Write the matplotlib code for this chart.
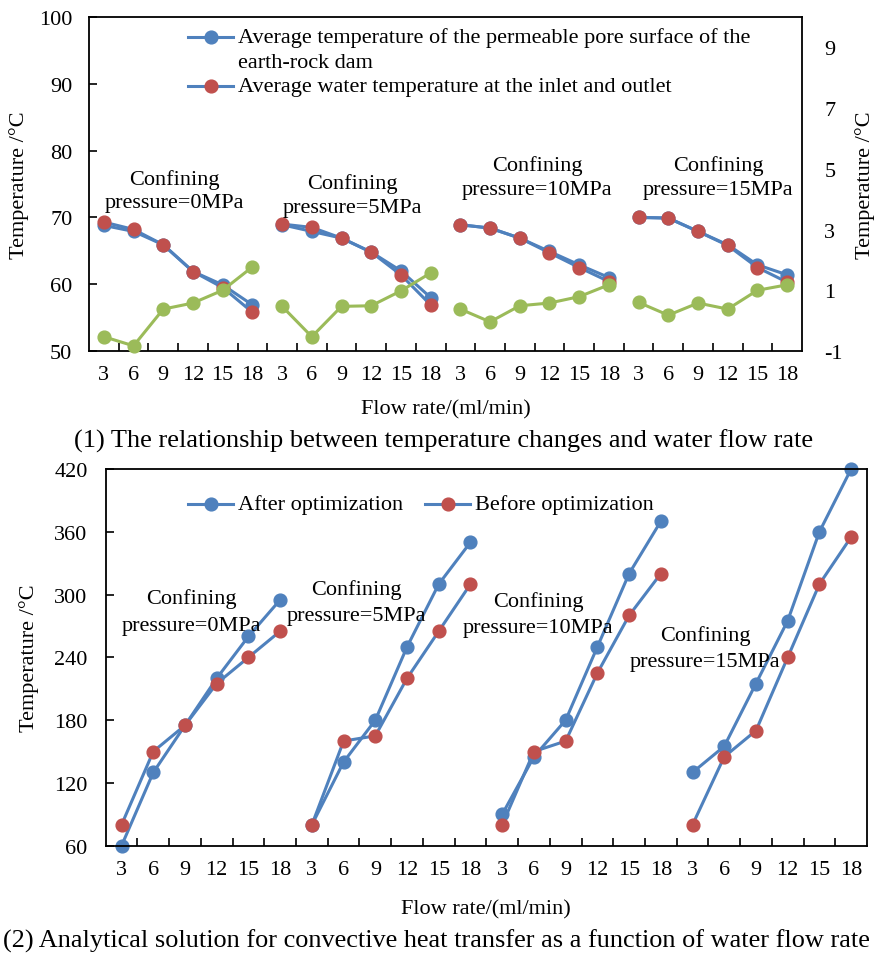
import numpy as np
from matplotlib import pyplot as plt
from matplotlib.lines import Line2D

plt.rcParams["font.family"] = ["Liberation Serif", "DejaVu Serif"]
plt.rcParams["axes.unicode_minus"] = False

W, H = 876, 954

flow = [3, 6, 9, 12, 15, 18]
pressures = ["0MPa", "5MPa", "10MPa", "15MPa"]

# (1) temperature vs flow rate, one row per confining pressure
surface_temp = [
    [68.8, 67.9, 65.9, 61.9, 59.9, 56.9],
    [68.9, 67.9, 66.9, 64.8, 62.0, 58.0],
    [68.9, 68.4, 66.9, 64.9, 62.9, 61.0],
    [70.0, 69.9, 67.9, 65.9, 62.9, 61.4],
]
water_temp = [
    [69.3, 68.2, 65.9, 61.9, 59.5, 55.8],
    [69.0, 68.5, 66.9, 64.8, 61.4, 56.9],
    [68.9, 68.4, 66.9, 64.7, 62.5, 60.4],
    [70.0, 69.9, 67.9, 65.8, 62.5, 60.3],
]
temp_diff = [
    [-0.53, -0.83, 0.38, 0.58, 1.0, 1.77],
    [0.47, -0.53, 0.47, 0.49, 0.98, 1.57],
    [0.38, -0.04, 0.49, 0.58, 0.79, 1.18],
    [0.6, 0.18, 0.58, 0.38, 1.0, 1.18],
]

# (2) convective heat transfer
after_opt = [
    [60, 130, 175, 220, 260, 295],
    [80, 140, 180, 250, 310, 350],
    [90, 145, 180, 250, 320, 370],
    [130, 155, 215, 275, 360, 420],
]
before_opt = [
    [80, 150, 175, 215, 240, 265],
    [80, 160, 165, 220, 265, 310],
    [80, 150, 160, 225, 280, 320],
    [80, 145, 170, 240, 310, 355],
]

BLUE = "#4F81BD"
RED = "#C0504D"
GREEN = "#9BBB59"
FS = 16
MS = 9.2
LW = 2.2


def fx(px):
    return px / W


def fy(py):
    return 1 - py / H


def setup_categories(ax):
    n = len(flow) * len(pressures)
    ax.set_xlim(-0.5, n - 0.5)
    ax.set_xticks(np.arange(n))
    ax.set_xticklabels([str(f) for f in flow] * len(pressures))
    ax.set_xticks(np.arange(0.5, n - 1, 1), minor=True)
    ax.tick_params(axis="x", which="major", length=0, pad=10, labelsize=FS)
    ax.tick_params(axis="x", which="minor", direction="in", length=6, width=1.2)
    ax.tick_params(axis="y", direction="in", length=6, width=1.2, labelsize=FS)
    for s in ax.spines.values():
        s.set_linewidth(1.3)


def draw_groups(ax, rows, line_color, marker_color):
    for g, row in enumerate(rows):
        xs = np.arange(len(flow)) + g * len(flow)
        ax.plot(xs, row, color=line_color, lw=LW, marker="o", ms=MS,
                mfc=marker_color, mec=marker_color, clip_on=False)


def legend_entry(fig, x0, y, marker_color, label):
    fig.add_artist(Line2D([fx(x0), fx(x0 + 45)], [fy(y), fy(y)],
                          color=BLUE, lw=LW))
    fig.add_artist(Line2D([fx(x0 + 23)], [fy(y)], marker="o", ms=MS,
                          mfc=marker_color, mec=marker_color, lw=0))
    fig.text(fx(x0 + 50), fy(y), label, fontsize=FS, va="center", ha="left")


fig = plt.figure(figsize=(W / 100, H / 100), dpi=100)

# ---- top chart
ax1 = fig.add_axes([fx(89), fy(352), fx(802 - 89), (352 - 18) / H])
setup_categories(ax1)
ax1.set_ylim(50, 100)
ax1.set_yticks(np.arange(50, 101, 10))
ax1.tick_params(axis="y", pad=12)
draw_groups(ax1, surface_temp, BLUE, BLUE)
draw_groups(ax1, water_temp, BLUE, RED)

ax1r = ax1.twinx()
ax1r.set_ylim(-1, 10)
ax1r.set_yticks([-1, 1, 3, 5, 7, 9])
ax1r.tick_params(axis="y", length=0, pad=16, labelsize=FS)
for s in ax1r.spines.values():
    s.set_visible(False)
draw_groups(ax1r, temp_diff, GREEN, GREEN)

fig.text(fx(19), fy(185), "Temperature /°C", rotation=90, fontsize=FS,
         ha="center", va="center")
fig.text(fx(865), fy(185), "Temperature /°C", rotation=90, fontsize=FS,
         ha="center", va="center")
fig.text(fx(446), fy(410), "Flow rate/(ml/min)", fontsize=FS,
         ha="center", va="center")

legend_entry(fig, 188, 37.7, BLUE,
             "Average temperature of the permeable pore surface of the")
fig.text(fx(238), fy(63), "earth-rock dam", fontsize=FS, va="center")
legend_entry(fig, 188, 87.3, RED,
             "Average water temperature at the inlet and outlet")

top_labels = [(174, 180, 204), (352, 184, 209), (537, 166, 191), (718, 166, 190)]
for p, (cx, y1, y2) in zip(pressures, top_labels):
    fig.text(fx(cx), fy(y1), "Confining", fontsize=FS, ha="center", va="center")
    fig.text(fx(cx), fy(y2), "pressure=" + p, fontsize=FS, ha="center",
             va="center")

fig.text(fx(444), fy(441),
         "(1) The relationship between temperature changes and water flow rate",
         fontsize=19, ha="center", va="center")

# ---- bottom chart
ax2 = fig.add_axes([fx(105.7), fy(846.7), fx(867 - 105.7), (846.7 - 470) / H])
setup_categories(ax2)
ax2.set_ylim(60, 420)
ax2.set_yticks(np.arange(60, 421, 60))
ax2.tick_params(axis="y", pad=13)
draw_groups(ax2, after_opt, BLUE, BLUE)
draw_groups(ax2, before_opt, BLUE, RED)

fig.text(fx(29), fy(658), "Temperature /°C", rotation=90, fontsize=FS,
         ha="center", va="center")
fig.text(fx(486), fy(910), "Flow rate/(ml/min)", fontsize=FS,
         ha="center", va="center")

legend_entry(fig, 188, 505, BLUE, "After optimization")
legend_entry(fig, 425, 505, RED, "Before optimization")

bottom_labels = [(191, 599, 626), (356, 590, 617), (538, 602, 629), (705, 636, 662)]
for p, (cx, y1, y2) in zip(pressures, bottom_labels):
    fig.text(fx(cx), fy(y1), "Confining", fontsize=FS, ha="center", va="center")
    fig.text(fx(cx), fy(y2), "pressure=" + p, fontsize=FS, ha="center",
             va="center")

fig.text(fx(3), fy(941),
         "(2) Analytical solution for convective heat transfer as a function of water flow rate",
         fontsize=18.9, ha="left", va="center")

fig.savefig("out.png", dpi=100)
